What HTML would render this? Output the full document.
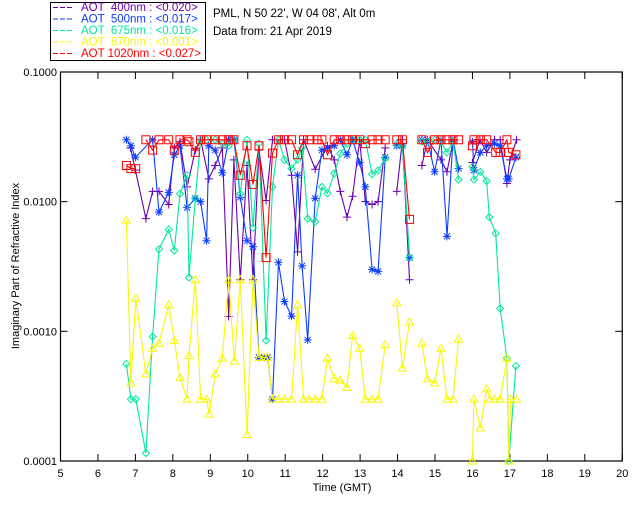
<!DOCTYPE html>
<html><head><meta charset="utf-8"><style>
body{margin:0;background:#fff;}
svg{display:block;font-family:"Liberation Sans",sans-serif;}
</style></head><body>
<svg id="chart" width="640" height="512" viewBox="0 0 640 512" xmlns="http://www.w3.org/2000/svg">
<rect width="640" height="512" fill="#fff"/>
<g id="legend">
<rect x="50.5" y="2.5" width="155" height="58" fill="none" stroke="#000"/>
</g>
<text x="213" y="17" font-size="11.5">PML, N 50 22', W 04 08', Alt 0m</text>
<text x="213" y="35" font-size="11.5">Data from: 21 Apr 2019</text>
<g id="axes"></g>
<g id="plot"></g>
<text x="342" y="491" font-size="11" text-anchor="middle">Time (GMT)</text>
<text transform="translate(19,266) rotate(-90)" font-size="11" text-anchor="middle">Imaginary Part of Refractive Index</text>
</svg>
<script>
const xTicks=[5,6,7,8,9,10,11,12,13,14,15,16,17,18,19,20];
const yTicks=[0.1,0.01,0.001,0.0001];
const yTickLabels=["0.1000","0.0100","0.0010","0.0001"];
const seriesNames=["AOT  400nm : <0.020>","AOT  500nm : <0.017>","AOT  675nm : <0.016>","AOT  870nm : <0.001>","AOT 1020nm : <0.027>"];
const t400=[6.87,7.0,7.28,7.46,7.63,7.89,8.04,8.19,8.38,8.6,8.74,8.96,9.13,9.32,9.49,9.63,9.8,9.98,10.14,10.3,10.49,10.66,10.98,11.17,11.33,11.49,11.8,12.13,12.31,12.47,12.65,12.8,12.99,13.14,13.32,13.48,13.67,null,13.98,14.13,14.32,null,14.65,14.8,15.16,15.32,15.48,null,16.0,16.2,16.38,16.59,16.74,16.92,17.0,17.18];
const v400=[0.026,0.0175,0.0074,0.012,0.012,0.0095,0.026,0.029,0.013,0.025,0.03,0.015,0.019,0.026,0.0013,0.021,0.0025,0.019,0.0025,0.025,0.0102,0.03,0.03,0.016,0.0041,0.03,0.0178,0.027,0.021,0.012,0.0076,0.011,0.03,0.01,0.0095,0.01,0.026,null,0.012,0.03,0.0025,null,0.019,0.03,0.021,0.017,0.029,null,0.02,0.03,0.024,0.03,0.03,0.0138,0.021,0.03];
const t500=[6.76,6.88,7.0,7.46,7.63,7.89,8.04,8.19,8.38,8.6,8.74,8.9,8.96,9.13,9.32,9.49,9.63,9.8,9.98,10.14,10.3,10.44,10.53,10.66,10.82,10.98,11.17,11.33,11.45,11.6,11.8,11.98,12.13,12.31,12.47,12.65,12.8,12.99,13.14,13.32,13.48,13.67,null,13.98,14.13,14.32,null,14.65,14.8,14.99,15.16,15.32,15.48,15.63,null,16.0,16.04,16.21,16.38,16.59,16.74,16.92,16.97,17.16];
const v500=[0.03,0.027,0.022,0.03,0.0083,0.0118,0.023,0.027,0.009,0.0106,0.01,0.005,0.027,0.025,0.0167,0.03,0.03,0.0108,0.005,0.0045,0.00063,0.00063,0.00063,0.0003,0.0034,0.0017,0.00131,0.016,0.0032,0.00086,0.0106,0.025,0.026,0.027,0.03,0.023,0.03,0.02,0.013,0.003,0.0029,0.022,null,0.027,0.027,0.0037,null,0.03,0.03,0.017,0.03,0.0054,0.03,0.018,null,0.029,0.0175,0.024,0.027,0.028,0.027,0.015,0.015,0.022];
const t675=[6.76,6.88,7.01,7.28,7.46,7.63,7.89,8.04,8.19,8.38,8.43,8.6,8.74,8.9,9.13,9.32,9.49,9.64,9.8,9.98,10.14,10.3,10.49,10.66,10.82,10.98,11.17,11.33,11.45,11.6,11.8,11.98,12.13,12.31,12.47,12.65,12.8,12.99,13.14,13.32,13.48,13.67,null,13.98,14.13,14.32,null,14.65,14.8,14.99,15.16,15.32,15.48,15.63,null,16.0,16.04,16.21,16.38,16.45,16.62,16.74,16.92,16.97,17.16];
const v675=[0.00056,0.0003,0.0003,0.000115,0.00091,0.0043,0.0061,0.0042,0.0115,0.016,0.0026,0.0106,0.03,0.03,0.03,0.028,0.027,0.03,0.0115,0.03,0.0063,0.028,0.00085,0.013,0.03,0.021,0.018,0.021,0.026,0.0074,0.007,0.013,0.0116,0.0165,0.0235,0.028,0.03,0.03,0.03,0.0163,0.0174,0.0216,null,0.028,0.027,0.0037,null,0.029,0.029,0.03,0.029,0.024,0.029,0.0148,null,0.0185,0.0148,0.017,0.0144,0.0076,0.0057,0.0015,0.00062,0.0001,0.00054];
const t870=[6.76,6.88,7.01,7.28,7.46,7.63,7.89,8.04,8.19,8.38,8.43,8.6,8.74,8.9,8.97,9.13,9.32,9.49,9.64,9.8,9.98,10.14,10.3,10.44,10.53,10.66,10.82,10.98,11.17,11.33,11.49,11.63,11.8,11.98,12.13,12.31,12.47,12.65,12.8,12.99,13.14,13.32,13.48,13.67,null,13.98,14.13,14.32,null,14.65,14.8,14.99,15.16,15.32,15.48,15.63,null,16.0,16.04,16.21,16.38,16.47,16.59,16.74,16.92,16.97,17.02,17.18];
const v870=[0.0072,0.0004,0.0018,0.00047,0.00074,0.00081,0.0016,0.00085,0.00044,0.0003,0.00065,0.0025,0.0003,0.0003,0.00023,0.00047,0.00062,0.0025,0.00059,0.0025,0.00016,0.0025,0.00063,0.00063,0.00063,0.0003,0.0003,0.0003,0.0003,0.0016,0.0003,0.0003,0.0003,0.0003,0.00062,0.00043,0.00042,0.00037,0.00093,0.00074,0.0003,0.0003,0.0003,0.00079,null,0.00166,0.00052,0.00118,null,0.00081,0.00043,0.0004,0.00074,0.0003,0.0003,0.00087,null,0.0001,0.0003,0.00018,0.00036,0.0003,0.0003,0.0003,0.00062,0.0001,0.0003,0.0003];
const t1020=[6.76,6.88,7.01,null,7.28,7.46,7.63,7.89,8.04,8.19,8.38,8.43,8.6,8.74,8.9,9.13,9.32,9.49,9.63,9.8,9.98,10.14,10.3,10.49,10.66,10.82,10.98,11.17,11.33,11.49,11.66,11.85,11.98,12.13,12.31,12.47,12.65,12.8,12.99,13.14,13.32,13.48,13.67,null,13.98,14.13,14.32,null,14.65,14.8,14.99,15.16,15.32,15.48,15.63,null,16.0,16.04,16.21,16.38,16.62,16.74,16.92,16.97,17.16];
const v1020=[0.019,0.018,0.018,null,0.03,0.025,0.03,0.03,0.025,0.03,0.03,0.029,0.024,0.03,0.03,0.03,0.03,0.03,0.03,0.016,0.027,0.0136,0.027,0.0037,0.0237,0.03,0.03,0.03,0.023,0.03,0.03,0.03,0.03,0.023,0.03,0.03,0.03,0.03,0.03,0.028,0.03,0.03,0.03,null,0.03,0.03,0.0073,null,0.03,0.024,0.03,0.03,0.03,0.03,0.03,null,0.027,0.03,0.03,0.03,0.024,0.024,0.03,0.024,0.023];

const NS="http://www.w3.org/2000/svg";
const X0=60.5,PX=37.45,YTOP=72,YBOT=461;
function xs(h){return X0+(h-5)*PX;}
function ys(v){return YTOP+(-1-Math.log10(v))/3*(YBOT-YTOP);}
function mk(tag,attrs,parent){const e=document.createElementNS(NS,tag);for(const k in attrs)e.setAttribute(k,attrs[k]);parent.appendChild(e);return e;}
const axes=document.getElementById('axes');
const frame=mk('rect',{x:X0,y:YTOP,width:xs(20)-X0,height:YBOT-YTOP,fill:'none',stroke:'#000','stroke-width':1.2},axes);


xTicks.forEach(h=>{
  const x=xs(h);
  const t1=mk('line',{x1:x,y1:YBOT,x2:x,y2:YBOT-7,stroke:'#000'},axes);
  
  
  const t2=mk('line',{x1:x,y1:YTOP,x2:x,y2:YTOP+7,stroke:'#000'},axes);
  
  
  const l=mk('text',{x:x,y:477,'font-size':11,'text-anchor':'middle'},axes);
  l.textContent=h;
  
  
});
yTicks.forEach((v,i)=>{
  const y=ys(v);
  const l=mk('text',{x:57,y:y+4,'font-size':11,'text-anchor':'end'},axes);
  l.textContent=yTickLabels[i];
  
  
  const t=mk('line',{x1:X0,y1:y,x2:X0+7,y2:y,stroke:'#000'},axes);
  
  
  const t2=mk('line',{x1:xs(20),y1:y,x2:xs(20)-7,y2:y,stroke:'#000'},axes);
  
  
});
const colors=['#6a00b0','#0a3cff','#00e89a','#f8f800','#ff0000'];
const symbols=['plus','star','diamond','triangle','square'];
const series=[[t400,v400],[t500,v500],[t675,v675],[t870,v870],[t1020,v1020]];
const lg=document.getElementById('legend');
seriesNames.forEach((n,i)=>{
  const y=11+i*11.5;
  const ln=mk('line',{x1:53,y1:y-3.5,x2:74,y2:y-3.5,stroke:colors[i],'stroke-dasharray':'5,2'},lg);
  
  
  const t=mk('text',{x:81,y:y,'font-size':11.5,fill:colors[i],style:'white-space:pre'},lg);
  t.textContent=n;
  
  
});
const plot=document.getElementById('plot');
function marker(sym,x,y,c,g){
  let d;
  if(sym==='plus')d=`M${x-4},${y}H${x+4}M${x},${y-4}V${y+4}`;
  else if(sym==='star')d=`M${x-4},${y}H${x+4}M${x},${y-4}V${y+4}M${x-3},${y-3}L${x+3},${y+3}M${x-3},${y+3}L${x+3},${y-3}`;
  else if(sym==='diamond')d=`M${x},${y-3.5}L${x+3.5},${y}L${x},${y+3.5}L${x-3.5},${y}Z`;
  else if(sym==='triangle')d=`M${x},${y-4}L${x+4},${y+3}L${x-4},${y+3}Z`;
  else d=`M${x-4},${y-4}H${x+4}V${y+4}H${x-4}Z`;
  const p=mk('path',{d:d,fill:'none',stroke:c,'stroke-width':1},g);
  
  
}
series.forEach((s,i)=>{
  const g=mk('g',{},plot);
  
  
  const [t,v]=s;
  let d='',pen=false;
  for(let k=0;k<t.length;k++){
    if(t[k]===null||v[k]===null){pen=false;continue;}
    d+=(pen?'L':'M')+xs(t[k]).toFixed(1)+','+ys(v[k]).toFixed(1);
    pen=true;
  }
  const p=mk('path',{d:d,fill:'none',stroke:colors[i],'stroke-width':1.1},g);
  
  
  for(let k=0;k<t.length;k++){
    if(t[k]===null||v[k]===null)continue;
    marker(symbols[i],xs(t[k]),ys(v[k]),colors[i],g);
  }
});
</script>
</body></html>
